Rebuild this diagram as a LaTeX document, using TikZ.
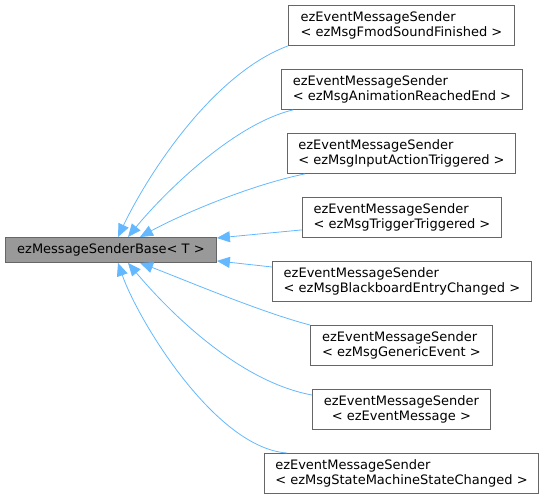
\documentclass[tikz,border=0pt]{standalone}
\usepackage{fontspec}
\setmainfont{DejaVu Sans}
\usetikzlibrary{arrows.meta}
\definecolor{edgeblue}{HTML}{63B8FF}
\definecolor{boxgray}{HTML}{666666}
\definecolor{basefill}{HTML}{999999}
\tikzset{
  cls/.style={draw=boxgray, line width=0.9pt, fill=white, anchor=north west,
    inner sep=0pt, minimum height=40pt, align=left,
    font=\fontsize{13}{15}\selectfont},
  basecls/.style={cls, fill=basefill, minimum height=25pt, align=center},
  inh/.style={draw=edgeblue, line width=0.8pt,
    {Triangle[length=13pt,width=11pt,fill=edgeblue]}-}
}
\begin{document}
\begin{tikzpicture}[x=1pt,y=-1pt]
\useasboundingbox (0,0) rectangle (544,499);
\node[basecls, minimum width=211pt] (base) at (5,237) {ezMessageSenderBase< T >};
\node[cls, minimum width=226pt] (n1) at (288,5) {ezEventMessageSender\\< ezMsgFmodSoundFinished >};
\node[cls, minimum width=241pt] (n2) at (281,69) {ezEventMessageSender\\< ezMsgAnimationReachedEnd >};
\node[cls, minimum width=228pt] (n3) at (287,133) {ezEventMessageSender\\< ezMsgInputActionTriggered >};
\node[cls, minimum width=199pt] (n4) at (302,197) {ezEventMessageSender\\< ezMsgTriggerTriggered >};
\node[cls, minimum width=259pt] (n5) at (272,261) {ezEventMessageSender\\< ezMsgBlackboardEntryChanged >};
\node[cls, minimum width=182pt] (n6) at (310,325) {ezEventMessageSender\\< ezMsgGenericEvent >};
\node[cls, minimum width=178pt, align=center] (n7) at (312,389) {ezEventMessageSender\\< ezEventMessage >};
\node[cls, minimum width=274pt] (n8) at (264,453) {ezEventMessageSender\\< ezMsgStateMachineStateChanged >};

\draw[inh] ([xshift=113pt]base.north west) .. controls (145,180) and (210,75) .. (n1.south west);
\draw[inh] ([xshift=123pt]base.north west) .. controls (158,200) and (230,125) .. ([xshift=12pt]n2.south west);
\draw[inh] ([xshift=135pt]base.north west) .. controls (180,215) and (250,185) .. ([xshift=18pt]n3.south west);
\draw[inh] ([yshift=-1pt]base.north east) -- ([yshift=8pt]n4.south west);
\draw[inh] ([yshift=2pt]base.south east) -- ([yshift=-6pt]n5.north west);
\draw[inh] ([xshift=135pt]base.south west) .. controls (180,278) and (260,312) .. (n6.north west);
\draw[inh] ([xshift=123pt]base.south west) .. controls (155,295) and (230,380) .. ([yshift=-6pt]n7.north west);
\draw[inh] ([xshift=113pt]base.south west) .. controls (138,320) and (215,448) .. ([xshift=23pt]n8.north west);
\end{tikzpicture}
\end{document}
